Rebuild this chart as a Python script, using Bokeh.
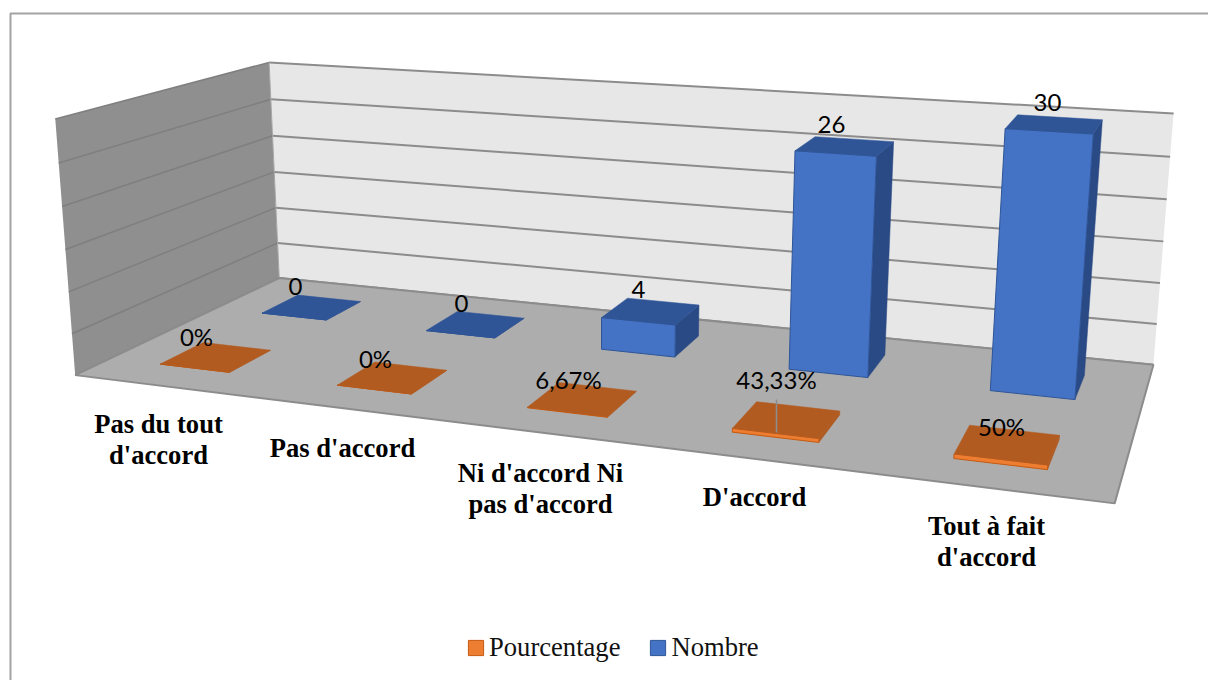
import numpy as np
from bokeh.core.properties import value
from bokeh.embed import file_html
from bokeh.models import Legend, LegendItem, Range1d
from bokeh.plotting import figure
from bokeh.resources import INLINE

# Survey answers, as counts and as share of respondents
categories = [["Pas du tout", "d'accord"], ["Pas d'accord"], ["Ni d'accord Ni", "pas d'accord"],
              ["D'accord"], ["Tout à fait", "d'accord"]]
nombre = [0, 0, 4, 26, 30]
pourcentage = [0, 0, 6.67, 43.33, 50]

AXIS_MAX = 30
AXIS_STEP = 5
BAR_WIDTH = 0.08
BAR_DEPTH = 0.2
BAR_SHIFT = -0.0015
ROW_DEPTH = {"pourcentage": 0.25, "nombre": 0.75}

# Box corners on the page, as (along categories, depth, height) -> pixel
anchors = [
    ((0, 0, 0), (75, 375)), ((0, 1, 0), (279, 277)), ((1, 1, 0), (1153, 364)), ((1, 0, 0), (1114, 503)),
    ((0, 0, 1), (55, 118)), ((0, 1, 1), (269, 62)), ((1, 1, 1), (1173, 113)),
    ((0, 0, .5), (64.5, 249)), ((0, 1, .5), (273, 172)), ((1, 1, .5), (1163, 241)),
]
A, b = [], []
for (u, v, w), (x, y) in anchors:
    A.append([u, v, w, 1, 0, 0, 0, 0, -x * u, -x * v, -x * w])
    b.append(x)
    A.append([0, 0, 0, 0, u, v, w, 1, -y * u, -y * v, -y * w])
    b.append(y)
m = np.linalg.lstsq(np.array(A, float), np.array(b, float), rcond=None)[0]
CAMERA = np.append(m, 1).reshape(3, 4)


def project(u, v, w):
    q = CAMERA @ np.array([u, v, w, 1.0])
    return float(q[0] / q[2]), float(q[1] / q[2])


def poly(points):
    pts = [project(*pt) for pt in points]
    return [pt[0] for pt in pts], [pt[1] for pt in pts]


def bar_faces(i, row, height):
    u0 = (i + 0.5) / len(categories) - BAR_WIDTH / 2 + BAR_SHIFT
    u1 = u0 + BAR_WIDTH
    v0 = ROW_DEPTH[row] - BAR_DEPTH / 2
    v1 = v0 + BAR_DEPTH
    h = height / AXIS_MAX
    front = poly([(u0, v0, 0), (u1, v0, 0), (u1, v0, h), (u0, v0, h)])
    side = poly([(u1, v0, 0), (u1, v1, 0), (u1, v1, h), (u1, v0, h)])
    top = poly([(u0, v0, h), (u1, v0, h), (u1, v1, h), (u0, v1, h)])
    return front, side, top


p = figure(width=1208, height=680, output_backend="svg", toolbar_location=None,
           x_range=Range1d(0, 1208), y_range=Range1d(680, 0),
           x_axis_type=None, y_axis_type=None, min_border=0, outline_line_color=None)

# Chart frame
p.line([10, 10, 1208], [680, 13, 13], line_color="#a3a3a3", line_width=2)

# Walls and floor
for pts, fill in [
    ([(0, 0, 0), (0, 1, 0), (0, 1, 1), (0, 0, 1)], "#8f8f8f"),
    ([(0, 1, 0), (1, 1, 0), (1, 1, 1), (0, 1, 1)], "#e7e7e7"),
]:
    xs, ys = poly(pts)
    p.patch(xs, ys, fill_color=fill, line_color=None)

# Gridlines, one per axis step
for k in range(0, AXIS_MAX + 1, AXIS_STEP):
    h = k / AXIS_MAX
    xs, ys = poly([(0, 0, h), (0, 1, h)])
    p.line(xs, ys, line_color="#7f7f7f", line_width=1.5)
    xs, ys = poly([(0, 1, h), (1, 1, h)])
    p.line(xs, ys, line_color="#8c8c8c", line_width=2)
xs, ys = poly([(0, 1, 0), (0, 1, 1)])
p.line(xs, ys, line_color="#a6a6a6", line_width=1)

xs, ys = poly([(0, 0, 0), (1, 0, 0), (1, 1, 0), (0, 1, 0)])
p.patch(xs + xs[:1], ys + ys[:1], fill_color="#adadad", line_color="#8c8c8c", line_width=2)

# Bars, back row first; percentages are plotted as fractions on the count axis
STYLE = {
    "nombre": ("#4472c4", "#2a4a85", "#2f5597", "#2f5597"),
    "pourcentage": ("#ed7d31", "#ae5a21", "#b25b20", "#c55a11"),
}
legend_items = []
for row, heights, name in [("nombre", nombre, "Nombre"),
                           ("pourcentage", [n / 100 for n in pourcentage], "Pourcentage")]:
    front_c, side_c, top_c, edge_c = STYLE[row]
    faces = [bar_faces(i, row, h) for i, h in enumerate(heights)]
    p.patches([f[1][0] for f in faces], [f[1][1] for f in faces], fill_color=side_c, line_color=side_c, line_width=0.5)
    r = p.patches([f[0][0] for f in faces], [f[0][1] for f in faces], fill_color=front_c, line_color=edge_c, line_width=1)
    p.patches([f[2][0] for f in faces], [f[2][1] for f in faces], fill_color=top_c, line_color=top_c, line_width=0.5)
    legend_items.append((name, r))

# Value labels
nombre_label_x = [295, 461, 638, 831, 1047]
nombre_label_y = [286, 303, 289, 124, 102]
pct_label_x = [196, 375, 568, 776, 1001]
pct_label_y = [336, 358, 379, 379, 426]
label_font = dict(text_font=value("Lato"), text_font_size="24px", text_color="#000000",
                  text_align="center", text_baseline="middle")
p.text(nombre_label_x, nombre_label_y, text=[str(n) for n in nombre], **label_font)
p.text(pct_label_x, pct_label_y, text=[f"{n:g}".replace(".", ",") + "%" for n in pourcentage], **label_font)

# Leader line of the 43,33% label
p.line([pct_label_x[3], pct_label_x[3]], [399, 432], line_color="#8c8c8c", line_width=1.5)

# Category labels, one glyph per line
cat_label_x = [158, 342, 540, 754, 986]
cat_label_y = [423, 447, 472, 496, 525]
LINE_STEP = 31
tx, ty, tt = [], [], []
for lines, cx, cy in zip(categories, cat_label_x, cat_label_y):
    for n, line in enumerate(lines):
        tx.append(cx)
        ty.append(cy + n * LINE_STEP)
        tt.append(line)
p.text(tx, ty, text=tt, text_font=value("Liberation Serif"), text_font_style="bold",
       text_font_size="26.6px", text_color="#000000", text_align="center", text_baseline="middle")

legend = Legend(
    items=[LegendItem(label=name, renderers=[r]) for name, r in reversed(legend_items)],
    orientation="horizontal", location=(466, 17), padding=0, margin=0, spacing=28,
    glyph_width=19, glyph_height=19, label_standoff=4, border_line_color=None,
    background_fill_alpha=0, label_text_font="Liberation Serif", label_text_font_size="26.6px",
    label_text_color="#111111",
)
p.add_layout(legend, "center")

open("out.html", "w").write(file_html(p, INLINE))
